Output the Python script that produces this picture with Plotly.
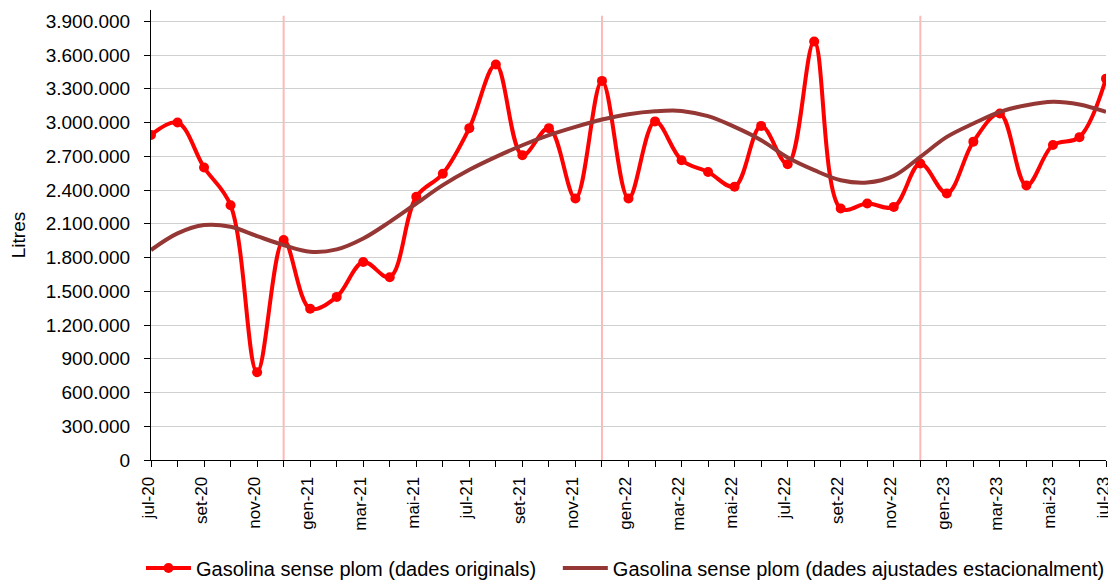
import plotly.graph_objects as go

months = ["jul-20", "ago-20", "set-20", "oct-20", "nov-20", "des-20",
          "gen-21", "feb-21", "mar-21", "abr-21", "mai-21", "jun-21",
          "jul-21", "ago-21", "set-21", "oct-21", "nov-21", "des-21",
          "gen-22", "feb-22", "mar-22", "abr-22", "mai-22", "jun-22",
          "jul-22", "ago-22", "set-22", "oct-22", "nov-22", "des-22",
          "gen-23", "feb-23", "mar-23", "abr-23", "mai-23", "jun-23",
          "jul-23"]

original = [2890000, 3000000, 2600000, 2265000, 780000, 1955000,
            1345000, 1450000, 1760000, 1625000, 2340000, 2545000,
            2950000, 3515000, 2710000, 2950000, 2325000, 3370000,
            2325000, 3010000, 2665000, 2560000, 2430000, 2970000,
            2630000, 3720000, 2235000, 2280000, 2250000, 2635000,
            2370000, 2830000, 3080000, 2440000, 2800000, 2870000,
            3390000]

adjusted = [1866000, 2014000, 2088000, 2073000, 1990000, 1910000,
            1851000, 1872000, 1969000, 2117000, 2280000, 2443000,
            2580000, 2695000, 2798000, 2887000, 2961000, 3026000,
            3074000, 3100000, 3103000, 3056000, 2961000, 2843000,
            2688000, 2576000, 2487000, 2467000, 2526000, 2695000,
            2872000, 2991000, 3095000, 3154000, 3184000, 3160000,
            3095000]

y_ticks = [0, 300000, 600000, 900000, 1200000, 1500000, 1800000, 2100000,
           2400000, 2700000, 3000000, 3300000, 3600000, 3900000]

name_orig = "Gasolina sense plom (dades originals)"
name_adj = "Gasolina sense plom (dades ajustades estacionalment)"

FONT = "Liberation Sans, Arial, sans-serif"
x = list(range(len(months)))

fig = go.Figure()

# year separators (December of each year)
for i, m in enumerate(months):
    if m.startswith("des"):
        fig.add_shape(type="line", xref="x", yref="y", x0=i, x1=i,
                      y0=0, y1=3950000, layer="below",
                      line=dict(color="#ffb8b8", width=2))

fig.add_trace(go.Scatter(
    x=x, y=original, name=name_orig + "\u00a0\u00a0\u00a0", mode="lines+markers",
    line=dict(color="#ff0000", width=4, shape="spline", smoothing=1.0),
    marker=dict(color="#ff0000", size=10),
))
fig.add_trace(go.Scatter(
    x=x, y=adjusted, name=name_adj, mode="lines",
    line=dict(color="#953735", width=4, shape="spline", smoothing=1.0),
))

# page body has an 8px margin: figure is sized/offset to compensate
fig.update_layout(
    width=1108, height=572,
    margin=dict(l=143, r=10, t=2, b=120, autoexpand=False),
    paper_bgcolor="white", plot_bgcolor="white",
    separators=",.",
    font=dict(family=FONT, size=19, color="black"),
    showlegend=True,
    legend=dict(orientation="h", x=-0.0105, xanchor="left",
                y=-0.24, yanchor="middle",
                font=dict(family=FONT, size=20, color="black"),
                itemwidth=45, tracegroupgap=0),
)

fig.update_xaxes(
    range=[0, len(months) - 1],
    tickmode="array", tickvals=x[::2], ticktext=months[::2],
    tickangle=-90, tickfont=dict(family=FONT, size=17),
    ticklabelshift=-3, ticklabelstandoff=3,
    ticks="outside", ticklen=6, tickcolor="black",
    showline=True, linecolor="black", linewidth=1,
    showgrid=False, zeroline=False, automargin=False,
    minor=dict(tickmode="linear", tick0=0, dtick=1, ticks="outside",
               ticklen=6, tickcolor="black", showgrid=False),
)

fig.update_yaxes(
    range=[0, 4000000],
    tickmode="array", tickvals=y_ticks, tickformat=",d",
    tickfont=dict(family=FONT, size=19),
    ticks="outside", ticklen=6, tickcolor="black",
    ticklabelstandoff=10,
    showline=True, linecolor="black", linewidth=1,
    showgrid=True, gridcolor="#d0d0d0", gridwidth=1,
    zeroline=False, automargin=False,
    title=dict(text="Litres", font=dict(family=FONT, size=19), standoff=20),
)

fig.write_html("out.html")
